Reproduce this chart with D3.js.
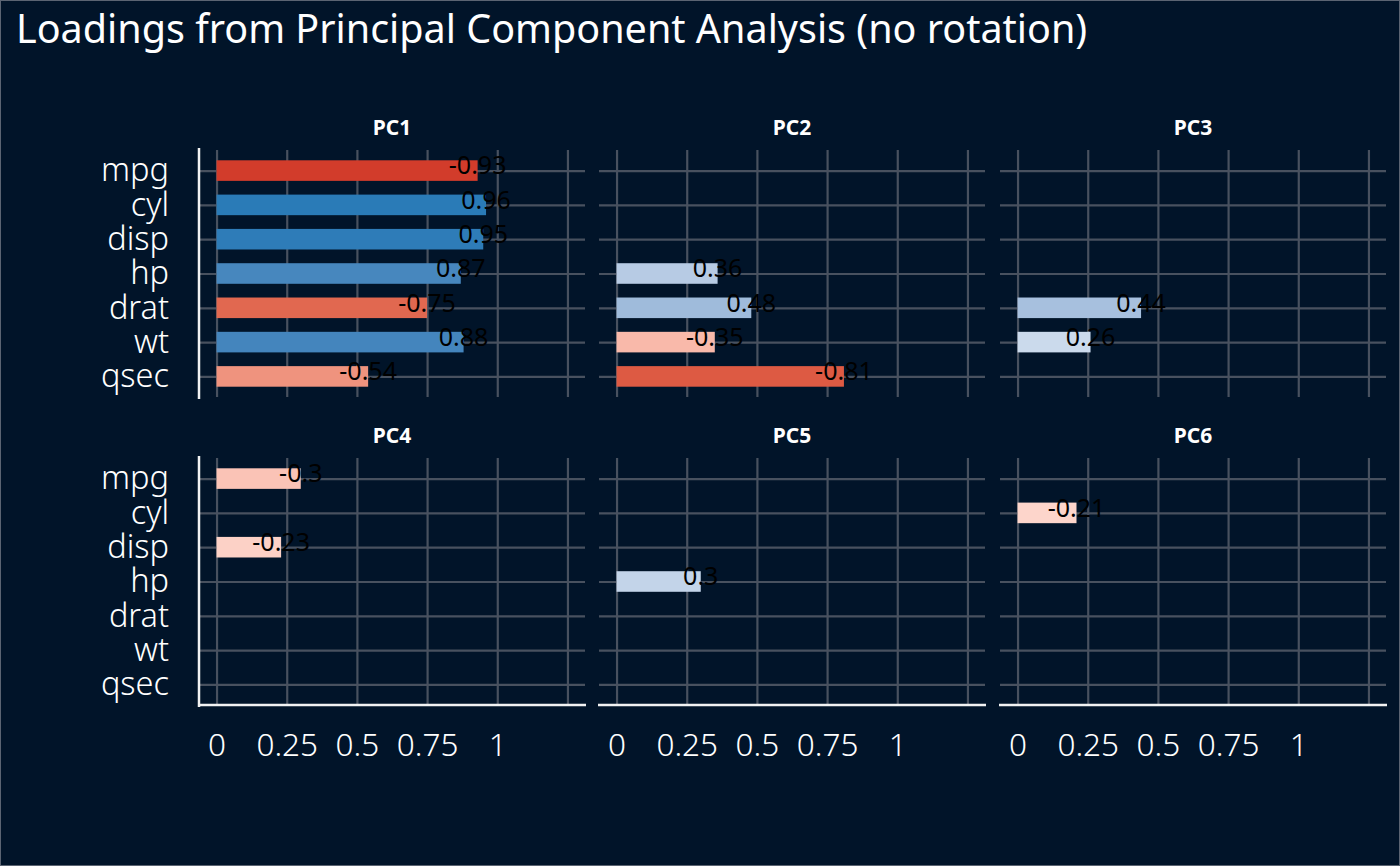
<!DOCTYPE html>
<html>
<head>
<meta charset="utf-8">
<title>PCA loadings</title>
<script src="https://cdn.jsdelivr.net/npm/d3@7/dist/d3.min.js"></script>
<style>
  body { margin: 0; background: #011429; }
  svg { display: block; }
  text { font-family: "Noto Sans", "Open Sans", sans-serif; }
</style>
</head>
<body>
<svg id="chart" width="1400" height="866"></svg>
<script>
// data
var variables = ["mpg", "cyl", "disp", "hp", "drat", "wt", "qsec"];
var components = ["PC1", "PC2", "PC3", "PC4", "PC5", "PC6"];
// loadings shown (|loading| > 0.2), one array per component, aligned with variables (null = hidden)
var pc1 = [-0.93, 0.96, 0.95, 0.87, -0.75, 0.88, -0.54];
var pc2 = [null, null, null, 0.36, 0.48, -0.35, -0.81];
var pc3 = [null, null, null, null, 0.44, 0.26, null];
var pc4 = [-0.3, null, -0.23, null, null, null, null];
var pc5 = [null, null, null, 0.3, null, null, null];
var pc6 = [null, -0.21, null, null, null, null, null];
var gridBreaks = [0, 0.25, 0.5, 0.75, 1, 1.25];
var tickLabels = [0, 0.25, 0.5, 0.75, 1];

var loadings = [pc1, pc2, pc3, pc4, pc5, pc6];

var W = 1400, H = 866;
var bg = "#011429";
var gridCol = "#48515f";

var svg = d3.select("#chart");
svg.append("rect").attr("width", W).attr("height", H).attr("fill", bg);
svg.append("rect").attr("x", 0.5).attr("y", 0.5).attr("width", W - 1).attr("height", H - 1)
  .attr("fill", "none").attr("stroke", "#5b6472");

svg.append("text")
  .attr("x", 16).attr("y", 43)
  .attr("fill", "#ffffff")
  .style("font-size", "39.5px")
  .text("Loadings from Principal Component Analysis (no rotation)");

// panel layout
var colX = [199, 599, 1000];
var rowY = [150, 458];
var pw = 386, ph = 247;

var color = d3.scaleLinear()
  .domain([-1, 0, 1])
  .range(["#cc261c", "#ffffff", "#1676b4"])
  .interpolate(d3.interpolateLab);

components.forEach(function(pc, i) {
  var col = i % 3, row = Math.floor(i / 3);
  var x0 = colX[col], y0 = rowY[row];

  var x = d3.scaleLinear().domain([-0.0625, 1.3125]).range([x0, x0 + pw]);
  var y = d3.scalePoint().domain(variables).range([y0, y0 + ph]).padding(0.6);
  var bandH = y.step() * 0.6;

  var g = svg.append("g");

  // grid
  var gx = g.append("g").attr("transform", "translate(0," + y0 + ")")
    .call(d3.axisBottom(x).tickValues(gridBreaks).tickSize(ph).tickFormat(""));
  var gy = g.append("g").attr("transform", "translate(" + x0 + ",0)")
    .call(d3.axisRight(y).tickSize(pw).tickFormat(""));
  [gx, gy].forEach(function(a) {
    a.select(".domain").remove();
    a.selectAll("line").attr("stroke", gridCol).attr("stroke-width", 2.2);
  });

  // strip label
  g.append("text")
    .attr("x", x0 + pw / 2).attr("y", y0 - 15)
    .attr("text-anchor", "middle")
    .attr("fill", "#ffffff")
    .style("font-size", "21px").style("font-weight", "bold")
    .text(pc);

  // bars
  var rows = variables.map(function(v, j) { return { v: v, val: loadings[i][j] }; })
    .filter(function(d) { return d.val !== null; });

  g.selectAll("rect.bar").data(rows).enter().append("rect")
    .attr("class", "bar")
    .attr("x", x(0))
    .attr("y", function(d) { return y(d.v) - bandH / 2; })
    .attr("width", function(d) { return x(Math.abs(d.val)) - x(0); })
    .attr("height", bandH)
    .attr("fill", function(d) { return color(d.val); });

  g.selectAll("text.val").data(rows).enter().append("text")
    .attr("class", "val")
    .attr("x", function(d) { return x(Math.abs(d.val)); })
    .attr("y", function(d) { return y(d.v) - 5; })
    .attr("dy", "0.35em")
    .attr("text-anchor", "middle")
    .attr("fill", "#000000")
    .style("font-size", "25px")
    .text(function(d) { return String(d.val); });

  // y labels + axis line on the left column
  if (col === 0) {
    var ya = g.append("g").attr("transform", "translate(" + x0 + ",0)")
      .call(d3.axisLeft(y).tickSize(0).tickPadding(30));
    ya.select(".domain").remove();
    ya.selectAll("text").attr("fill", "#ffffff").style("font-size", "32.5px").style("font-weight", 300)
      .style("font-family", "'Noto Sans', sans-serif");
    g.append("line")
      .attr("x1", x0).attr("x2", x0).attr("y1", y0 - 2).attr("y2", y0 + ph + 2)
      .attr("stroke", "#f2f2f2").attr("stroke-width", 2.5);
  }

  // x labels + axis line on the bottom row
  if (row === 1) {
    var xa = g.append("g").attr("transform", "translate(0," + (y0 + ph) + ")")
      .call(d3.axisBottom(x).tickValues(tickLabels).tickSize(0).tickPadding(29)
        .tickFormat(d3.format("")));
    xa.select(".domain").remove();
    xa.selectAll("text").attr("fill", "#ffffff").style("font-size", "31.5px").style("font-weight", 300)
      .style("font-family", "'Noto Sans', sans-serif");
    g.append("line")
      .attr("x1", x0 - 1).attr("x2", x0 + pw + 1).attr("y1", y0 + ph).attr("y2", y0 + ph)
      .attr("stroke", "#f2f2f2").attr("stroke-width", 2.5);
  }
});
</script>
</body>
</html>
